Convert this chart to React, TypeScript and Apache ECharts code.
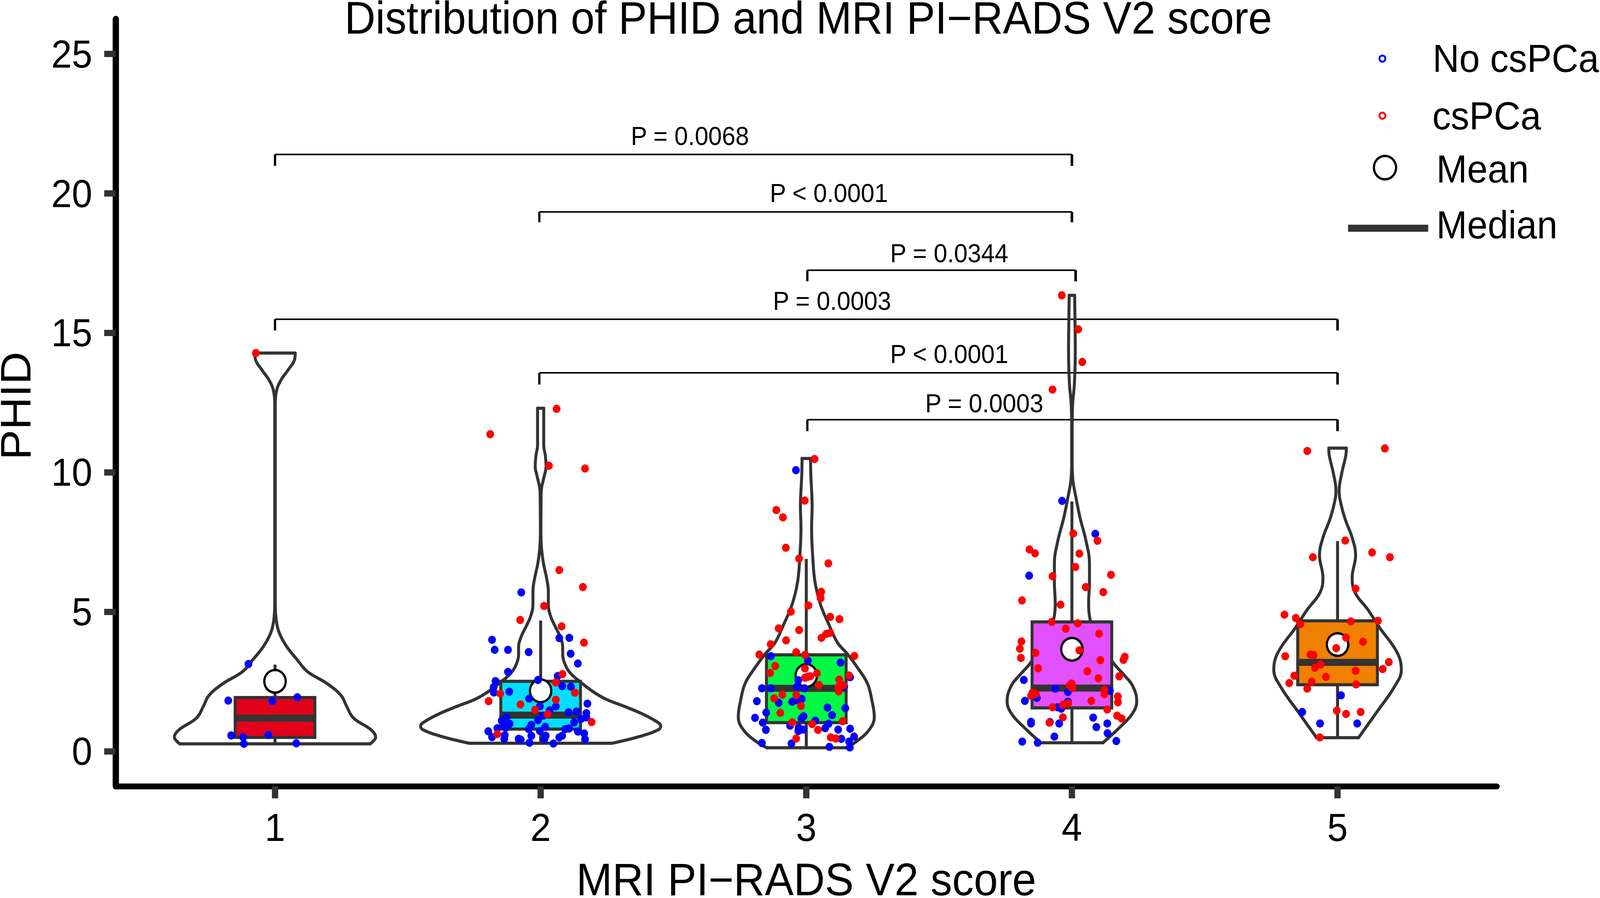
import { useEffect, useRef } from 'react';
import * as echarts from 'echarts';

const FONT = 'Liberation Sans';
const DARK = '#333333';
const DESIGN_WIDTH = 4331;
const DESIGN_HEIGHT = 2298;

const yTicks = [0, 5, 10, 15, 20, 25];
const xTicks = [1, 2, 3, 4, 5];

// box statistics per PI-RADS score
const categories = [1, 2, 3, 4, 5];
const whiskerLow = [0.29, 0.34, 0.13, 0.31, 0.49];
const q1 = [0.5, 0.8, 1.03, 1.56, 2.39];
const medians = [1.19, 1.3, 2.26, 2.27, 3.19];
const q3 = [1.93, 2.51, 3.46, 4.64, 4.68];
const whiskerHigh = [3.11, 4.69, 6.9, 8.96, 7.54];
const means = [2.51, 2.17, 2.72, 3.66, 3.83];
const boxColors = ['#E3001B', '#00DFFF', '#00F945', '#E151FF', '#F08000'];

// violin outlines: [PHID, half width in axis units], bottom to top
const violin1 = [
  [0.27, 0.358], [0.51, 0.379], [0.77, 0.362], [1.2, 0.295], [1.63, 0.269], [2.0, 0.249], [2.43, 0.196],
  [2.86, 0.122], [3.29, 0.083], [3.77, 0.043], [4.25, 0.016], [4.68, 0.005], [5.32, 0.001], [12.48, 0.001],
  [12.98, 0.007], [13.32, 0.023], [13.67, 0.049], [14.06, 0.074], [14.28, 0.076],
];
const violin2 = [
  [0.29, 0.268], [0.53, 0.372], [0.78, 0.444], [0.91, 0.452], [1.07, 0.436], [1.32, 0.388], [1.61, 0.316],
  [1.88, 0.244], [2.15, 0.196], [2.5, 0.148], [2.84, 0.109], [3.19, 0.089], [3.48, 0.083], [3.73, 0.083],
  [4.12, 0.073], [4.51, 0.053], [4.86, 0.037], [5.25, 0.029], [5.74, 0.029], [6.28, 0.021], [6.62, 0.013],
  [6.9, 0.008], [7.32, 0.003], [7.79, 0.001], [9.19, 0.002], [9.47, 0.004], [9.89, 0.014], [10.2, 0.0204],
  [10.6, 0.0178], [10.97, 0.0116], [12.3, 0.0116],
];
const violin3 = [
  [0.13, 0.148], [0.31, 0.182], [0.75, 0.235], [1.24, 0.256], [1.88, 0.246], [2.44, 0.23], [3.0, 0.193],
  [3.49, 0.155], [3.89, 0.118], [4.53, 0.086], [5.25, 0.054], [6.06, 0.033], [7.02, 0.024], [7.99, 0.02],
  [8.79, 0.022], [9.92, 0.017], [10.5, 0.016],
];
const violin4 = [
  [0.31, 0.117], [0.86, 0.18], [1.36, 0.228], [1.8, 0.244], [2.36, 0.228], [2.74, 0.196], [3.17, 0.156],
  [4.0, 0.1], [4.71, 0.069], [5.36, 0.063], [6.05, 0.066], [6.74, 0.066], [7.55, 0.053], [8.36, 0.031],
  [9.11, 0.015], [9.7, 0.004], [10.28, 0.001], [11.5, 0.001], [12.31, 0.002], [13.18, 0.0093], [14.34, 0.0127],
  [15.5, 0.0115], [16.35, 0.0102],
];
const violin5 = [
  [0.49, 0.079], [1.4, 0.147], [2.3, 0.213], [2.92, 0.24], [3.55, 0.224], [4.44, 0.158], [5.07, 0.115],
  [5.69, 0.066], [6.23, 0.055], [7.03, 0.068], [7.66, 0.055], [8.37, 0.027], [9.09, 0.008], [9.35, 0.006],
  [9.98, 0.016], [10.6, 0.031], [10.87, 0.033],
];
const violins = [violin1, violin2, violin3, violin4, violin5];

// jittered patients: [score + jitter, PHID]
const noCsPCa = [
  // score 1
  [0.9, 3.13], [0.824, 1.82], [0.99, 1.8], [1.084, 1.94], [0.835, 0.57], [0.88, 0.51], [0.883, 0.27], [0.975, 0.59], [1.08, 0.29],
  // score 2
  [1.927, 5.7], [1.817, 4.0], [1.827, 3.64], [1.877, 3.64], [1.955, 3.56], [2.07, 4.06], [2.108, 4.07], [2.113, 3.5], [2.14, 3.15],
  [1.877, 2.85], [1.83, 2.52], [2.064, 2.7], [1.99, 2.56], [1.823, 2.3], [1.824, 2.11], [2.081, 2.34], [2.114, 2.32], [1.882, 2.14],
  [1.957, 1.89], [1.997, 1.62], [2.057, 1.61], [2.034, 1.47], [2.176, 1.71], [2.105, 1.4], [2.135, 1.43], [2.172, 1.37], [2.009, 1.28],
  [2.152, 1.16], [2.172, 1.22], [1.99, 1.12], [2.126, 1.04], [1.871, 1.22], [1.853, 1.1], [1.883, 0.99], [1.863, 0.93], [1.869, 0.85],
  [1.837, 0.83], [1.965, 0.95], [2.017, 0.88], [1.955, 0.8], [1.997, 0.73], [2.093, 0.8], [2.107, 0.82], [2.14, 0.71], [2.164, 0.64],
  [1.803, 0.72], [1.817, 0.51], [1.865, 0.58], [1.863, 0.45], [1.917, 0.45], [1.925, 0.42], [1.965, 0.56], [2.019, 0.56], [2.014, 0.43],
  [2.081, 0.56], [2.07, 0.5], [2.167, 0.43], [1.958, 0.31], [2.048, 0.28],
  // score 3
  [2.961, 10.08], [2.867, 3.41], [3.006, 3.25], [3.129, 3.18], [3.165, 2.66], [2.97, 2.55], [2.964, 2.31], [2.833, 2.26], [2.866, 2.26],
  [2.993, 2.26], [3.143, 2.33], [2.814, 1.8], [2.896, 1.74], [2.947, 1.78], [2.983, 1.88], [2.963, 1.84], [3.08, 1.57], [3.147, 1.55],
  [2.849, 1.39], [3.097, 1.3], [2.807, 1.2], [2.99, 1.26], [2.982, 1.18], [2.836, 1.03], [3.034, 1.1], [3.084, 0.99], [2.939, 0.92],
  [3.071, 0.83], [2.971, 0.85], [2.988, 0.78], [2.97, 0.73], [2.848, 0.77], [3.12, 0.78], [3.165, 0.81], [3.18, 0.53], [3.132, 0.45],
  [3.161, 0.35], [2.833, 0.3], [2.944, 0.28], [3.087, 0.16], [3.164, 0.14],
  // score 4
  [3.963, 8.98], [4.088, 7.8], [3.839, 6.3], [3.819, 2.56], [3.937, 2.25], [3.985, 2.13], [4.143, 2.17], [3.823, 1.81], [3.868, 1.92],
  [3.985, 1.78], [3.946, 1.58], [3.96, 1.53], [4.08, 1.21], [3.846, 1.06], [3.846, 1.0], [3.917, 1.05], [3.952, 1.0], [4.133, 1.0],
  [4.092, 0.87], [4.134, 0.65], [3.934, 0.53], [3.813, 0.35], [3.871, 0.31], [4.167, 0.37],
  // score 5
  [5.013, 2.01], [4.867, 1.41], [4.934, 1.0], [5.074, 1.0],
];
const csPCa = [
  // score 1
  [0.928, 14.28],
  // score 2
  [1.81, 11.37], [2.06, 12.28], [2.031, 10.24], [2.167, 10.14], [2.07, 6.5], [2.159, 5.89], [2.013, 5.21], [1.923, 4.71], [2.079, 4.48],
  [2.163, 3.9], [2.082, 2.77], [2.057, 2.47], [2.129, 2.1], [1.848, 2.07], [1.804, 1.8], [1.924, 1.68], [2.057, 1.85], [1.979, 1.49],
  [2.026, 1.33], [2.192, 1.05], [1.837, 0.62],
  // score 3
  [3.031, 10.48], [2.994, 8.99], [2.887, 8.65], [2.912, 8.39], [2.923, 7.3], [2.973, 6.91], [3.083, 6.74], [3.056, 5.72], [3.052, 5.62],
  [3.054, 5.49], [3.008, 5.23], [2.942, 5.01], [3.09, 4.82], [3.125, 4.74], [2.896, 4.41], [2.973, 4.35], [3.09, 4.25], [3.075, 4.21],
  [3.057, 4.07], [2.924, 3.98], [2.866, 3.84], [2.823, 3.47], [2.962, 3.55], [2.995, 3.46], [3.181, 3.42], [2.883, 3.06], [2.864, 2.81],
  [2.995, 2.97], [3.04, 2.8], [2.995, 2.64], [3.015, 2.69], [3.004, 2.67], [3.161, 2.72], [3.124, 2.57], [3.048, 2.38], [3.14, 2.37],
  [3.121, 2.31], [3.122, 2.15], [2.962, 2.02], [2.91, 2.03], [2.879, 1.9], [2.98, 1.63], [2.902, 1.38], [2.947, 1.04], [3.137, 1.08],
  [3.022, 0.98], [3.044, 0.77], [3.092, 0.5], [3.111, 0.46], [2.962, 0.46],
  // score 4
  [3.962, 16.35], [4.024, 15.13], [4.039, 13.96], [3.927, 12.97], [4.005, 7.81], [4.096, 7.55], [3.84, 7.24], [3.861, 7.1], [4.028, 7.09],
  [4.013, 6.61], [3.927, 6.28], [4.147, 6.33], [4.052, 5.89], [4.118, 5.71], [3.812, 5.41], [3.957, 5.26], [3.924, 4.64], [4.022, 4.59],
  [3.977, 4.4], [4.102, 4.22], [3.81, 3.94], [3.804, 3.68], [3.808, 3.35], [3.863, 3.53], [4.028, 3.62], [4.107, 3.27], [3.873, 2.98],
  [4.199, 3.39], [4.194, 3.28], [4.058, 2.87], [4.1, 2.62], [4.178, 2.69], [3.999, 2.43], [3.991, 2.36], [4.002, 2.27], [3.852, 2.11],
  [3.864, 2.06], [3.846, 1.99], [4.123, 2.2], [4.122, 2.05], [4.173, 1.97], [4.173, 1.76], [4.073, 1.81], [3.986, 1.72], [3.966, 1.67],
  [3.927, 1.58], [4.133, 1.5], [4.17, 1.28], [4.187, 1.18], [3.966, 1.22], [3.915, 1.03],
  // score 5
  [4.886, 10.77], [5.178, 10.86], [5.029, 7.56], [4.907, 6.96], [5.13, 7.13], [5.197, 6.96], [5.068, 5.83], [4.8, 4.9], [4.843, 4.78],
  [4.86, 4.56], [5.05, 4.66], [5.152, 4.68], [5.032, 4.08], [5.096, 3.93], [4.995, 3.7], [4.803, 3.41], [4.898, 3.47], [4.91, 3.45],
  [5.193, 3.2], [4.936, 3.11], [4.915, 3.0], [5.17, 2.95], [5.068, 2.89], [4.837, 2.71], [4.956, 2.67], [4.818, 2.45], [4.903, 2.5],
  [5.07, 2.4], [4.886, 2.25], [4.997, 1.46], [5.032, 1.34], [5.087, 1.41], [4.933, 0.5],
];

// significance brackets: [from score, to score, height, drop end]
const brackets = [
  [1, 4, 21.4, 20.99],
  [1.995, 4, 19.34, 18.97],
  [3.004, 4.014, 17.25, 16.85],
  [1, 5, 15.49, 15.09],
  [1.995, 5, 13.57, 13.15],
  [3.004, 5, 11.89, 11.48],
];
const pLabels = ['P = 0.0068', 'P < 0.0001', 'P = 0.0344', 'P = 0.0003', 'P < 0.0001', 'P = 0.0003'];
const pLabelX = [2.562, 3.085, 3.538, 3.097, 3.538, 3.67];
const pLabelY = [22.06, 20.01, 17.85, 16.14, 14.24, 12.48];

const BOX_HALF = 0.15;
const OUTLINE = 8;

function violinSeries(outline: number[][], center: number) {
  const base = {
    type: 'line',
    symbol: 'none',
    z: 2,
    silent: true,
    lineStyle: { color: DARK, width: OUTLINE, cap: 'round', join: 'round' },
  };
  const first = outline[0];
  const last = outline[outline.length - 1];
  return [
    { ...base, smooth: 0.4, data: outline.map(([y, w]) => [center + w, y]) },
    { ...base, smooth: 0.4, data: outline.map(([y, w]) => [center - w, y]) },
    { ...base, data: [[center - first[1], first[0]], [center + first[1], first[0]]] },
    { ...base, data: [[center - last[1], last[0]], [center + last[1], last[0]]] },
  ];
}

function renderBox(params: any, api: any) {
  const i = params.dataIndex;
  const x = api.value(0);
  const [cx, lowY] = api.coord([x, api.value(1)]);
  const [left, q1Y] = api.coord([x - BOX_HALF, api.value(2)]);
  const [right, medY] = api.coord([x + BOX_HALF, api.value(3)]);
  const q3Y = api.coord([x, api.value(4)])[1];
  const highY = api.coord([x, api.value(5)])[1];
  const stroke = { stroke: DARK, lineWidth: OUTLINE };
  return {
    type: 'group',
    children: [
      { type: 'line', shape: { x1: cx, y1: lowY, x2: cx, y2: highY }, style: stroke },
      {
        type: 'rect',
        shape: { x: left, y: q3Y, width: right - left, height: q1Y - q3Y },
        style: { fill: boxColors[i], ...stroke },
      },
      { type: 'line', shape: { x1: left, y1: medY, x2: right, y2: medY }, style: { stroke: DARK, lineWidth: 18 } },
    ],
  };
}

function renderBracket(_params: any, api: any) {
  const [x1, y] = api.coord([api.value(0), api.value(2)]);
  const x2 = api.coord([api.value(1), api.value(2)])[0];
  const dropY = api.coord([api.value(0), api.value(3)])[1];
  return {
    type: 'group',
    children: [
      { type: 'line', shape: { x1, y1: y, x2, y2: y }, style: { stroke: '#000', lineWidth: 4 } },
      { type: 'line', shape: { x1, y1: y, x2: x1, y2: dropY }, style: { stroke: '#000', lineWidth: 6 } },
      { type: 'line', shape: { x1: x2, y1: y, x2, y2: dropY }, style: { stroke: '#000', lineWidth: 7 } },
    ],
  };
}

function renderLabel(params: any, api: any) {
  const [x, y] = api.coord([api.value(0), api.value(1)]);
  return {
    type: 'text',
    x,
    y,
    style: {
      text: pLabels[params.dataIndex],
      fontFamily: FONT,
      fontSize: 66,
      fill: '#000',
      align: 'center',
      verticalAlign: 'middle',
    },
  };
}

function legendText(text: string, x: number, y: number) {
  return {
    type: 'text',
    x,
    y,
    style: { text, fontFamily: FONT, fontSize: 100, fill: '#000', align: 'left', verticalAlign: 'middle' },
  };
}

export default function App() {
  const chartRef = useRef<HTMLDivElement>(null);

  useEffect(() => {
    if (!chartRef.current) return;
    const chart = echarts.init(chartRef.current, undefined, { renderer: 'svg' });

    const option: any = {
      animation: false,
      backgroundColor: '#fff',
      textStyle: { fontFamily: FONT },
      title: {
        text: 'Distribution of PHID and MRI PI\u2212RADS V2 score',
        left: 2188,
        top: 0,
        padding: 0,
        textAlign: 'center',
        textStyle: { fontFamily: FONT, fontSize: 116, lineHeight: 92, fontWeight: 'normal', color: '#000' },
      },
      grid: { left: 313, right: 279, top: 49, bottom: 286, outerBoundsMode: 'none' },
      xAxis: {
        type: 'value',
        min: 0.4,
        max: 5.6,
        name: 'MRI PI\u2212RADS V2 score',
        nameLocation: 'middle',
        nameGap: 193,
        nameTextStyle: { fontFamily: FONT, fontSize: 117, lineHeight: 90, color: '#000' },
        axisLine: { show: true, onZero: false, lineStyle: { color: '#000', width: 15 } },
        axisTick: { show: true, length: 31, customValues: xTicks, lineStyle: { color: DARK, width: 17 } },
        axisLabel: { customValues: xTicks, margin: 56, fontFamily: FONT, fontSize: 100, color: '#000' },
        splitLine: { show: false },
      },
      yAxis: {
        type: 'value',
        min: -1.25,
        max: 26.25,
        name: 'PHID',
        nameLocation: 'middle',
        nameGap: 226,
        nameTextStyle: { fontFamily: FONT, fontSize: 116, lineHeight: 90, color: '#000', padding: [0, 16, 0, 0] },
        axisLine: { show: true, onZero: false, lineStyle: { color: '#000', width: 17 } },
        axisTick: { show: true, length: 31, customValues: yTicks, lineStyle: { color: DARK, width: 16 } },
        axisLabel: { customValues: yTicks, margin: 63, fontFamily: FONT, fontSize: 100, color: '#000' },
        splitLine: { show: false },
      },
      series: [
        ...violins.flatMap((v, i) => violinSeries(v, categories[i])),
        {
          type: 'custom',
          z: 3,
          silent: true,
          renderItem: renderBox,
          encode: { x: 0, y: [1, 2, 3, 4, 5] },
          data: categories.map((c, i) => [c, whiskerLow[i], q1[i], medians[i], q3[i], whiskerHigh[i]]),
        },
        {
          type: 'scatter',
          z: 4,
          silent: true,
          symbolSize: 58,
          itemStyle: { color: '#fff', borderColor: '#000', borderWidth: 6, opacity: 1 },
          data: categories.map((c, i) => [c, means[i]]),
        },
        {
          type: 'scatter',
          z: 5,
          silent: true,
          symbolSize: 21,
          itemStyle: { color: '#0000FF', opacity: 1 },
          data: noCsPCa,
        },
        {
          type: 'scatter',
          z: 6,
          silent: true,
          symbolSize: 21,
          itemStyle: { color: '#FF0000', opacity: 1 },
          data: csPCa,
        },
        {
          type: 'custom',
          z: 2,
          silent: true,
          renderItem: renderBracket,
          encode: { x: [0, 1], y: [2, 3] },
          data: brackets,
        },
        {
          type: 'custom',
          z: 7,
          silent: true,
          renderItem: renderLabel,
          encode: { x: 0, y: 1 },
          data: pLabelX.map((x, i) => [x, pLabelY[i]]),
        },
      ],
      graphic: [
        { type: 'circle', x: 3742, y: 150, shape: { r: 8 }, style: { fill: '#fff', stroke: '#0000FF', lineWidth: 5 } },
        { type: 'circle', x: 3742, y: 296, shape: { r: 8 }, style: { fill: '#fff', stroke: '#FF0000', lineWidth: 5 } },
        { type: 'circle', x: 3749, y: 429, shape: { r: 30 }, style: { fill: '#fff', stroke: '#000', lineWidth: 6 } },
        { type: 'rect', shape: { x: 3649, y: 575, width: 217, height: 18 }, style: { fill: DARK } },
        legendText('No csPCa', 3878, 150),
        legendText('csPCa', 3877, 297),
        legendText('Mean', 3888, 433),
        legendText('Median', 3888, 576),
      ],
    };

    chart.setOption(option);
    return () => chart.dispose();
  }, []);

  // the browser may cap the window below the 4331 design width: squeeze the chart to fit
  const fit = Math.min(1, window.innerWidth / DESIGN_WIDTH);

  return (
    <div
      ref={chartRef}
      style={{
        position: 'absolute',
        left: 0,
        top: 0,
        width: DESIGN_WIDTH,
        height: DESIGN_HEIGHT,
        transform: `scaleX(${fit})`,
        transformOrigin: '0 0',
      }}
    />
  );
}
